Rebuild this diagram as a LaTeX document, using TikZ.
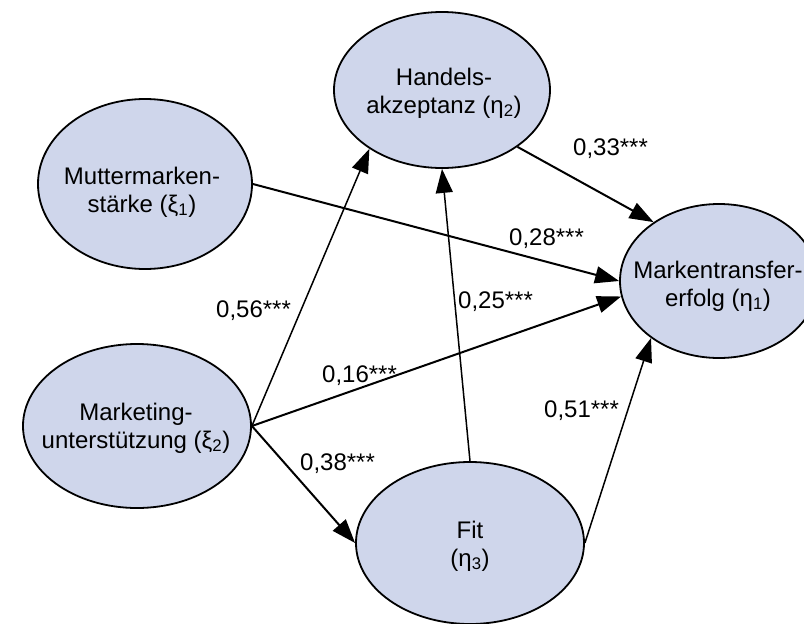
\documentclass[tikz,border=0pt]{standalone}
\usepackage{fontspec}
\setmainfont{Liberation Sans}
\usetikzlibrary{shapes.geometric,arrows.meta}
\definecolor{ellfill}{RGB}{207,214,235}
\begin{document}
\begin{tikzpicture}[x=1pt,y=-1pt,
  latent/.style={ellipse, draw=black, line width=1.8pt, fill=ellfill, inner sep=0pt},
  txt/.style={align=center, font=\fontsize{24}{28}\selectfont, inner sep=0pt},
  coef/.style={anchor=base west, font=\fontsize{24}{28}\selectfont, inner sep=0pt},
  arr/.style={-{Triangle[length=24pt,width=17pt]}, line width=2pt},
  arrthin/.style={arr, line width=1.5pt}]
\useasboundingbox (0,0) rectangle (804,624);
% latent variables
\node[latent, minimum width=214pt, minimum height=170pt] (mm) at (145,184) {};
\node[latent, minimum width=216pt, minimum height=156pt] (ha) at (442,90) {};
\node[latent, minimum width=228pt, minimum height=164pt] (mk) at (137,426) {};
\node[latent, minimum width=228pt, minimum height=162pt] (fit) at (470,543) {};
\node[latent, minimum width=198pt, minimum height=154pt] (mt) at (719,281) {};
% texts
\node[txt] (mmt) at (142,192) {Muttermarken-\\stärke (ξ\textsubscript{1})};
\node[txt] (hat) at (444,93) {Handels-\\akzeptanz (η\textsubscript{2})};
\node[txt] (mkt) at (136,428) {Marketing-\\unterstützung (ξ\textsubscript{2})};
\node[txt] (fitt) at (470,546) {Fit\\(η\textsubscript{3})};
\node[txt] (mtt) at (718,286) {Markentransfer-\\erfolg (η\textsubscript{1})};
% paths
\draw[arr] (mm.east) -- (mt.west);
\draw[arr] (mk.east) -- (mt.189);
\draw[arrthin] (mk.east) -- (ha.219);
\draw[arr] (mk.east) -- (fit.west);
\draw[arrthin] (fit.north) -- (ha.south);
\draw[arr] (ha.323.5) -- (mt.138);
\draw[arrthin] (fit.east) -- (mt.220);
% coefficients
\node[coef] (c33) at (573,155) {0,33***};
\node[coef] (c28) at (509,245) {0,28***};
\node[coef] (c25) at (458,308) {0,25***};
\node[coef] (c56) at (216,317) {0,56***};
\node[coef] (c16) at (322,382) {0,16***};
\node[coef] (c51) at (544,417) {0,51***};
\node[coef] (c38) at (300,470) {0,38***};
\end{tikzpicture}
\end{document}
